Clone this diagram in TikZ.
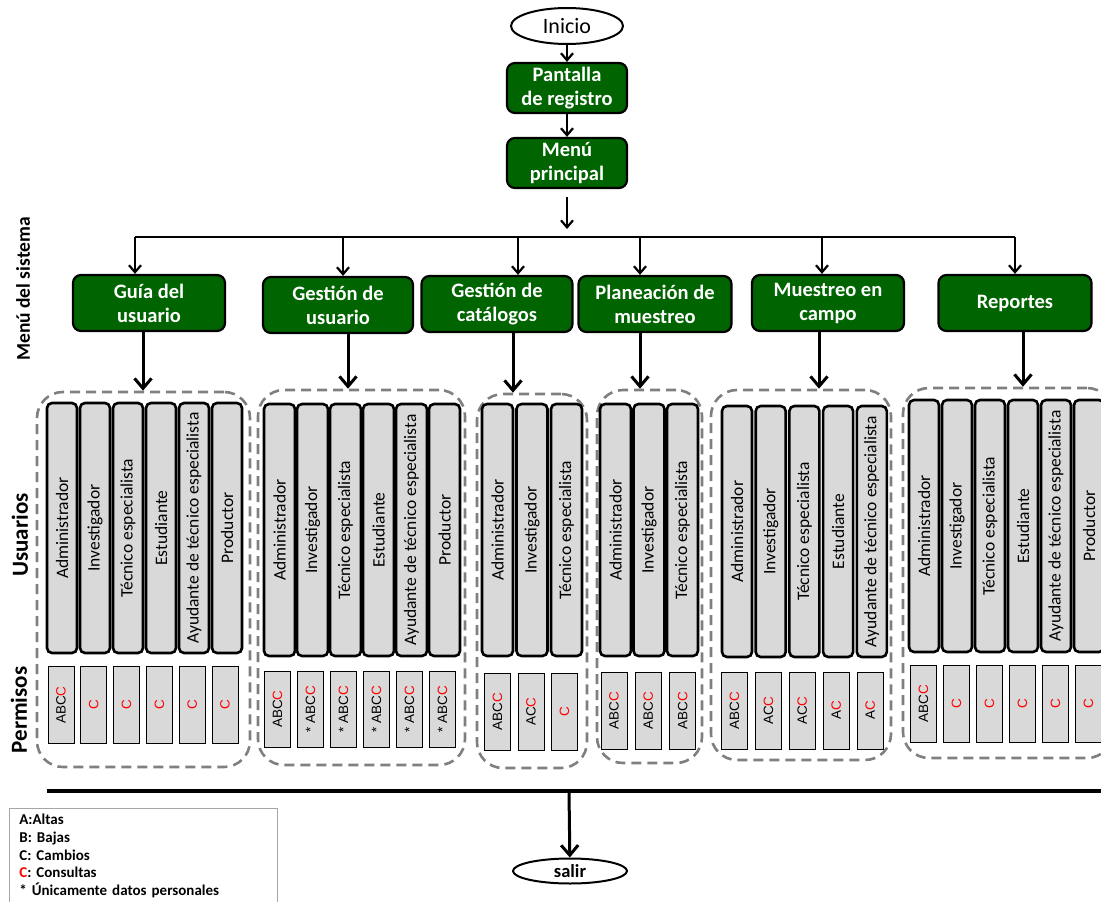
\documentclass[tikz,border=0pt]{standalone}
\usepackage{fontspec}
\setmainfont{Carlito}
\newfontfamily\arialfont{Liberation Sans}
\usetikzlibrary{arrows.meta, shapes.geometric}
\definecolor{cverde}{HTML}{006400}
\definecolor{cgris}{HTML}{D9D9D9}
\definecolor{cguion}{HTML}{7F7F7F}
\newcommand{\rojoC}{\textcolor{red}{C}}
\tikzset{
  every picture/.style={line width=2.2pt},
  terminal/.style={ellipse, draw=black, fill=white, line width=2pt, inner sep=0pt},
  caja/.style={draw=black, fill=cverde, rounded corners=8pt, line width=2.2pt, text=white, font=\bfseries\fontsize{20.5}{24}\selectfont, align=center, minimum width=152pt, minimum height=56pt, inner sep=0pt},
  usuario/.style={draw=black, fill=cgris, rounded corners=5pt, line width=2.6pt, rotate=90, minimum width=250pt, minimum height=30pt, inner sep=0pt, font=\fontsize{17.5}{19}\selectfont},
  permiso/.style={draw=black, fill=cgris, line width=0.9pt, rotate=90, minimum width=77pt, minimum height=26pt, inner sep=0pt, font=\arialfont\fontsize{13.5}{16}\selectfont},
  grupo/.style={draw=cguion, dash pattern=on 10pt off 6pt, line width=2.6pt, rounded corners=26pt},
  flecha/.style={-{Straight Barb[length=7pt, width=12pt]}, line width=2.2pt},
  flechagrande/.style={-{Straight Barb[length=10pt, width=17pt]}, line width=3pt},
  etiqueta/.style={rotate=90, font=\bfseries\fontsize{23}{25}\selectfont},
  leyenda/.style={draw=black!35, line width=0.8pt, align=left, inner xsep=10pt, inner ysep=6pt, minimum width=268pt, text width=248pt, font=\bfseries\fontsize{15}{17.6}\selectfont},
}

\begin{document}
\begin{tikzpicture}[x=1pt, y=-1pt]
  \useasboundingbox (0,0) rectangle (1101,902);
  \clip (0,0) rectangle (1101,902);
  % inicio y menu principal
  \node[terminal, minimum width=112pt, minimum height=36pt, font=\fontsize{22}{24}\selectfont] (inicio) at (567,26) {Inicio};
  \node[caja, minimum width=120pt, minimum height=50pt] (pantalla) at (567,88) {Pantalla\\de registro};
  \node[caja, minimum width=120pt, minimum height=50pt] (menu) at (567,163) {Menú\\principal};
  \draw[flecha] (inicio) -- (pantalla);
  \draw[flecha] (pantalla) -- (menu);
  \coordinate (bus) at (567,237);
  \draw[flecha] ([yshift=-8pt]menu.south) -- ([yshift=8pt]bus);

  % etiquetas laterales
  \node[etiqueta, font=\bfseries\fontsize{19.5}{21}\selectfont] (lblmenu) at (23,289) {Menú del sistema};
  \node[etiqueta] (lblusuarios) at (20,535) {Usuarios};
  \node[etiqueta] (lblpermisos) at (19,710) {Permisos};

  % opciones del menu del sistema
  \foreach \n/\cx/\cy/\w/\txt in {1/149/303/152/{Guía del\\usuario}, 2/338/305/150/{Gestión de\\usuario}, 3/497/304/151/{Gestión de\\catálogos}, 4/655/304/153/{Planeación de\\muestreo}, 5/828/303/152/{Muestreo en\\campo}, 6/1015/303/153/{Reportes}}
    \node[caja, minimum width=\w pt] (caja\n) at (\cx,\cy) {\txt};
  \foreach \n/\x in {1/135, 2/343, 3/518, 4/640, 5/822, 6/1015} {
    \coordinate (b\n) at (\x,237);
    \draw[flecha] (b\n) -- (b\n |- caja\n.north);
  }
  \draw (b1) -- (b6);

  % grupos de usuarios
  \foreach \n/\cx/\cy/\w/\h in {1/143.5/579.5/213/375, 2/361.5/577.5/207/375, 3/532/581/110/374, 4/649.5/576.5/105/373, 5/801/575/180/370, 6/1008/573/210/370}
    \node[grupo, minimum width=\w pt, minimum height=\h pt] (grupo\n) at (\cx,\cy) {};
  \foreach \n/\x in {1/143, 2/348, 3/513, 4/640, 5/819, 6/1023}
    \draw[flechagrande] (\x,0 |- caja\n.south) -- (\x,0 |- grupo\n.north);

  \foreach \i/\u/\p in {0/Administrador/ABC\rojoC, 1/Investigador/\rojoC, 2/Técnico especialista/\rojoC, 3/Estudiante/\rojoC, 4/Ayudante de técnico especialista/\rojoC, 5/Productor/\rojoC} {
    \node[usuario] (u1-\i) at (62+33*\i,528) {\u};
    \node[permiso] (p1-\i) at (61+32.8*\i,705) {\p};
  }
  \foreach \i/\u/\p in {0/Administrador/ABC\rojoC, 1/Investigador/* ABC\rojoC, 2/Técnico especialista/* ABC\rojoC, 3/Estudiante/* ABC\rojoC, 4/Ayudante de técnico especialista/* ABC\rojoC, 5/Productor/* ABC\rojoC} {
    \node[usuario, minimum height=31pt, minimum width=252pt] (u2-\i) at (279.5+33*\i,530) {\u};
    \node[permiso, minimum width=76pt] (p2-\i) at (277.5+33*\i,709) {\p};
  }
  \foreach \i/\u/\p in {0/Administrador/ABC\rojoC, 1/Investigador/AC\rojoC, 2/Técnico especialista/\rojoC} {
    \node[usuario, minimum height=31pt, minimum width=252pt] (u3-\i) at (497.5+34.5*\i,530) {\u};
    \node[permiso] (p3-\i) at (497.5+33.5*\i,711.5) {\p};
  }
  \foreach \i/\u/\p in {0/Administrador/ABC\rojoC, 1/Investigador/ABC\rojoC, 2/Técnico especialista/ABC\rojoC} {
    \node[usuario, minimum height=31pt, minimum width=252pt] (u4-\i) at (615.5+33.5*\i,530) {\u};
    \node[permiso] (p4-\i) at (614+34.3*\i,710.5) {\p};
  }
  \foreach \i/\u/\p in {0/Administrador/ABC\rojoC, 1/Investigador/AC\rojoC, 2/Técnico especialista/AC\rojoC, 3/Estudiante/A\rojoC, 4/Ayudante de técnico especialista/A\rojoC} {
    \node[usuario, minimum width=251pt] (u5-\i) at (737+33.7*\i,531.5) {\u};
    \node[permiso] (p5-\i) at (734.5+33.9*\i,710.5) {\p};
  }
  \foreach \i/\u/\p in {0/Administrador/ABC\rojoC, 1/Investigador/\rojoC, 2/Técnico especialista/\rojoC, 3/Estudiante/\rojoC, 4/Ayudante de técnico especialista/\rojoC, 5/Productor/\rojoC} {
    \node[usuario, minimum width=252pt] (u6-\i) at (924+33*\i,526) {\u};
    \node[permiso] (p6-\i) at (923.5+33*\i,703.5) {\p};
  }

  % salida
  \coordinate (linea izq) at (47,791);
  \coordinate (linea der) at (1101,791);
  \draw[line width=3.5pt] (linea izq) -- (linea der);
  \node[terminal, minimum width=114pt, minimum height=25pt, font=\bfseries\fontsize{18.5}{20}\selectfont] (salir) at (570,871) {salir};
  \coordinate (salida) at (569,791);
  \draw[flechagrande] (salida) -- (salir);

  % leyenda
  \node[leyenda, anchor=north west] (ley) at (9,808) {A:Altas\\B: Bajas\\C: Cambios\\\rojoC: Consultas\\{*} Únicamente datos personales};
\end{tikzpicture}
\end{document}
